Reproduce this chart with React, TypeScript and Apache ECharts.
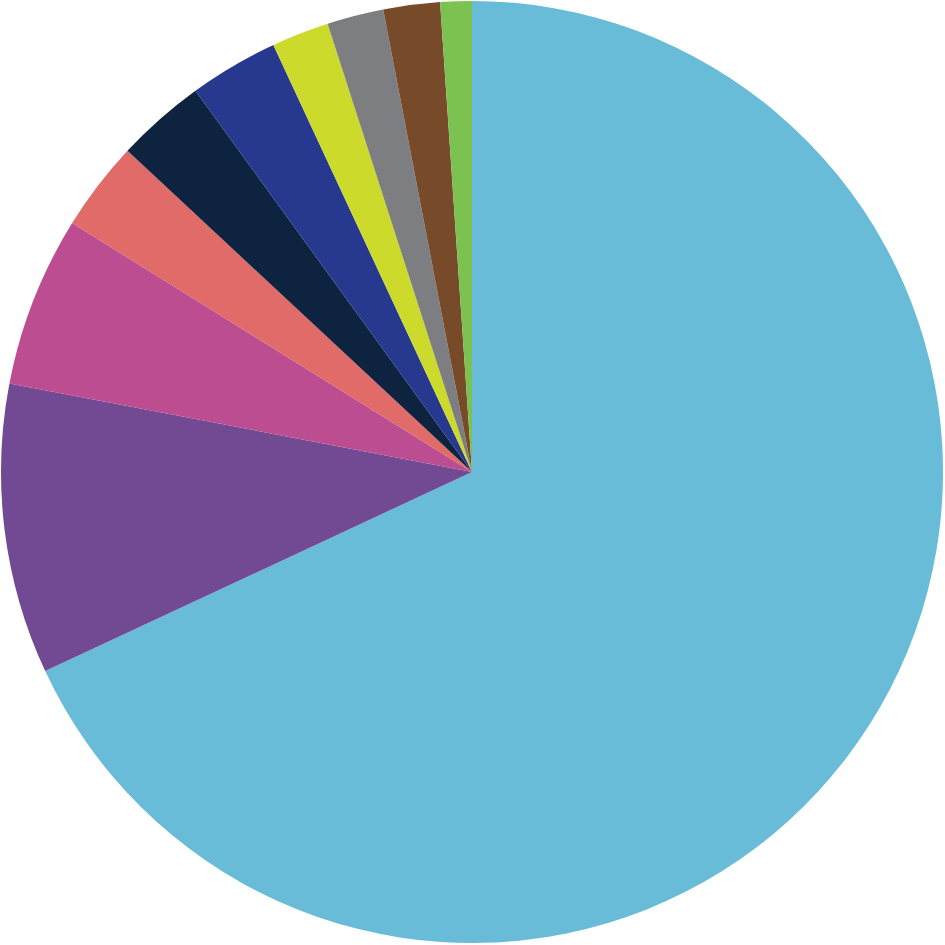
import React, { useEffect, useRef } from "react";
import * as echarts from "echarts";

const categories = ["A", "B", "C", "D", "E", "F", "G", "H", "I", "J"];
const values = [68.06, 9.96, 5.85, 3.08, 3.07, 3.06, 1.97, 1.94, 1.94, 1.08];
const colors = [
  "#69BCD8",
  "#724993",
  "#BD4D91",
  "#E06B68",
  "#0E2340",
  "#27388F",
  "#CCDA2C",
  "#7D7E82",
  "#774B2A",
  "#7CC250",
];

export default function App() {
  const ref = useRef<HTMLDivElement>(null);
  useEffect(() => {
    if (!ref.current) return;
    const chart = echarts.init(ref.current, undefined, { renderer: "svg" });
    chart.setOption({
      animation: false,
      series: [
        {
          type: "pie",
          center: [472, 472],
          radius: [0, 471],
          startAngle: 90,
          clockwise: true,
          label: { show: false },
          labelLine: { show: false },
          emphasis: { disabled: true },
          itemStyle: { borderWidth: 0 },
          data: categories.map((c, i) => ({
            name: c,
            value: values[i],
            itemStyle: { color: colors[i] },
          })),
        },
      ],
    });
    return () => chart.dispose();
  }, []);
  return (
    <div
      ref={ref}
      style={{ position: "absolute", left: 0, top: 0, width: 945, height: 945, background: "#fff" }}
    />
  );
}
